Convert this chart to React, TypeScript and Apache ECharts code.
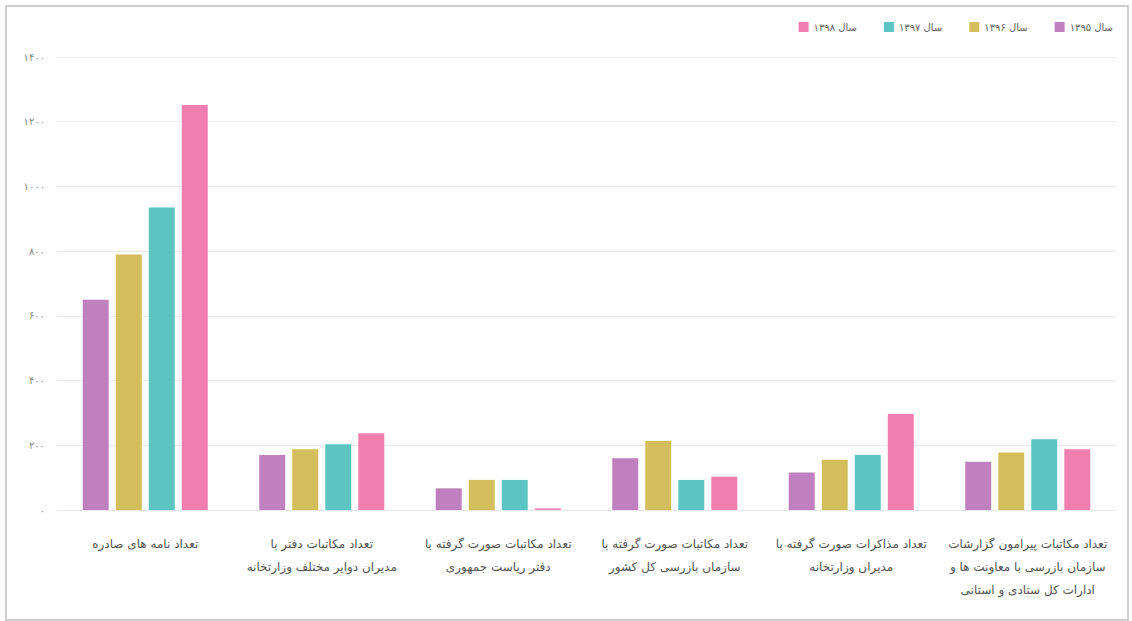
import React, { useEffect, useRef } from "react";
import * as echarts from "echarts";

const categories = [
  "تعداد نامه های صادره",
  "تعداد مکاتبات دفتر با\nمدیران دوایر مختلف وزارتخانه",
  "تعداد مکاتبات صورت گرفته با\nدفتر ریاست جمهوری",
  "تعداد مکاتبات صورت گرفته با\nسازمان بازرسی کل کشور",
  "تعداد مذاکرات صورت گرفته با\nمدیران وزارتخانه",
  "تعداد مکاتبات پیرامون گزارشات\nسازمان بازرسی با معاونت ها و\nادارات کل ستادی و استانی",
];

const seriesNames = ["سال ۱۳۹۵", "سال ۱۳۹۶", "سال ۱۳۹۷", "سال ۱۳۹۸"];
const y1395 = [650, 170, 67, 160, 116, 149];
const y1396 = [790, 188, 93, 213, 155, 178];
const y1397 = [935, 203, 93, 93, 170, 219];
const y1398 = [1252, 237, 5, 103, 297, 188];
const colors = ["#C07FBF", "#D4BE5C", "#5CC5C2", "#F07FAF"];

const toFa = (v: number | string) =>
  String(v).replace(/[0-9]/g, (d) => "۰۱۲۳۴۵۶۷۸۹"[Number(d)]);

export default function App() {
  const ref = useRef<HTMLDivElement>(null);
  useEffect(() => {
    if (!ref.current) return;
    const chart = echarts.init(ref.current, null, { renderer: "svg" });
    const values = [y1395, y1396, y1397, y1398];
    chart.setOption({
      animation: false,
      backgroundColor: "#ffffff",
      textStyle: { fontFamily: "DejaVu Sans" },
      legend: {
        data: [...seriesNames].reverse(),
        top: 17,
        right: 14,
        icon: "rect",
        itemWidth: 10,
        itemHeight: 10,
        itemGap: 27,
        textStyle: { fontSize: 10, color: "#666", fontFamily: "DejaVu Sans" },
      },
      grid: { left: 57, right: 16, top: 57, bottom: 111 },
      xAxis: {
        type: "category",
        data: categories,
        axisTick: { show: false },
        axisLine: { lineStyle: { color: "#e6e6e6" } },
        axisLabel: {
          interval: 0,
          fontSize: 12,
          lineHeight: 23,
          color: "#555",
          margin: 22,
          fontFamily: "DejaVu Sans",
        },
      },
      yAxis: {
        type: "value",
        min: 0,
        max: 1400,
        interval: 200,
        axisLine: { show: false },
        axisTick: { show: false },
        splitLine: { lineStyle: { color: "#ebebeb" } },
        axisLabel: {
          fontSize: 10,
          color: "#888",
          margin: 12,
          formatter: (v: number) => toFa(v),
        },
      },
      series: seriesNames.map((name, i) => ({
        name,
        type: "bar",
        data: values[i],
        barWidth: 26,
        barGap: "27%",
        itemStyle: { color: colors[i] },
      })),
    });
    return () => chart.dispose();
  }, []);
  return (
    <>
      <div
        ref={ref}
        style={{ position: "fixed", left: 0, top: 0, width: 1132, height: 621 }}
      />
      <div
        style={{
          position: "fixed",
          left: 5,
          top: 5,
          width: 1120,
          height: 612,
          border: "2px solid #cfcfcf",
          pointerEvents: "none",
        }}
      />
    </>
  );
}
